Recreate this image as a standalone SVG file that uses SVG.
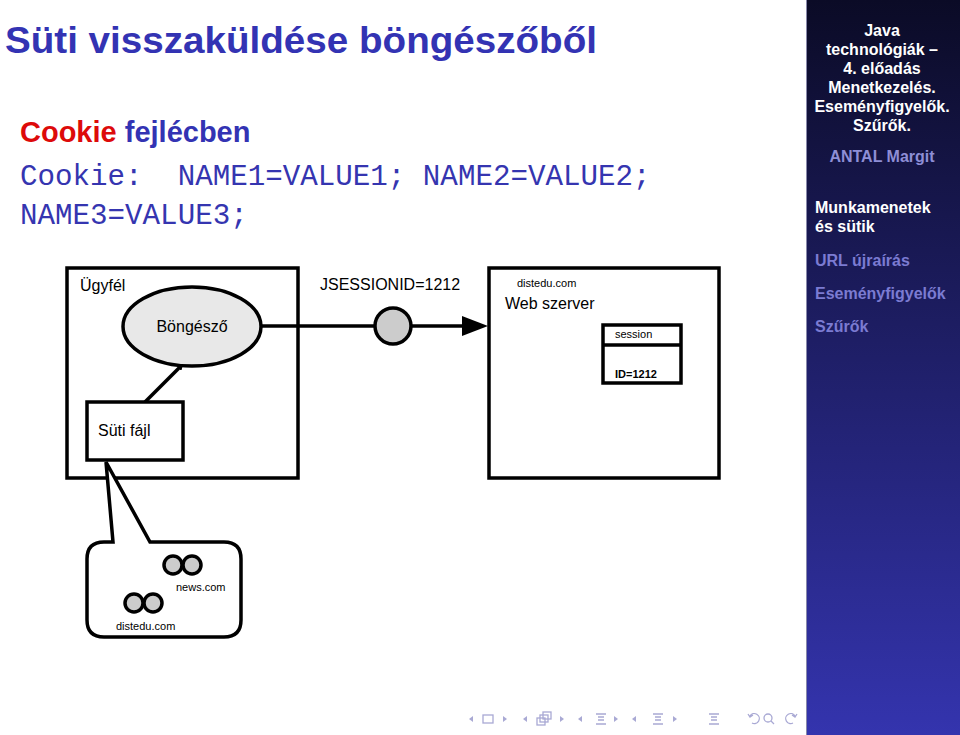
<svg xmlns="http://www.w3.org/2000/svg" width="960" height="735" viewBox="0 0 960 735">
<defs>
<linearGradient id="sb" x1="0" y1="0" x2="0" y2="1">
<stop offset="0" stop-color="#0b0b26"/>
<stop offset="1" stop-color="#3434ae"/>
</linearGradient>
<style>
.box{fill:#fff;stroke:#000;stroke-width:3.5}
.ln{fill:none;stroke:#000;stroke-width:3.5}
.ck{fill:#cccccc;stroke:#000;stroke-width:3.5}
.lbl{font-family:"Liberation Sans",Arial,sans-serif;font-size:16px;fill:#000}
.sm{font-family:"Liberation Sans",Arial,sans-serif;font-size:11px;fill:#000}
.sbt{font-family:"Liberation Sans",Arial,sans-serif;font-size:16px;font-weight:bold;fill:#fff;text-anchor:middle}
.sbs{font-family:"Liberation Sans",Arial,sans-serif;font-size:16px;font-weight:bold;fill:#7b7bd2}
.nav{fill:none;stroke:#a9a9d4;stroke-width:1.3}
.navf{fill:#a9a9d4}
</style>
</defs>
<rect width="960" height="735" fill="#fff"/>

<g id="sidebar">
<rect x="806" y="0" width="154" height="735" fill="url(#sb)"/>
<line x1="806.5" y1="0" x2="806.5" y2="735" stroke="#8888aa" stroke-width="1"/>
<text class="sbt" x="882" y="36">Java</text>
<text class="sbt" x="882" y="55">technológiák –</text>
<text class="sbt" x="882" y="74">4. előadás</text>
<text class="sbt" x="882" y="93">Menetkezelés.</text>
<text class="sbt" x="882" y="112">Eseményfigyelők.</text>
<text class="sbt" x="882" y="131">Szűrők.</text>
<text class="sbt" x="882" y="162" style="fill:#8e8ed6">ANTAL Margit</text>
<text class="sbs" x="815" y="213" style="fill:#fff">Munkamenetek</text>
<text class="sbs" x="815" y="232" style="fill:#fff">és sütik</text>
<text class="sbs" x="815" y="266">URL újraírás</text>
<text class="sbs" x="815" y="299">Eseményfigyelők</text>
<text class="sbs" x="815" y="332">Szűrők</text>
</g>

<g id="title">
<text x="5" y="53" textLength="592" lengthAdjust="spacingAndGlyphs" style="font-family:'Liberation Sans',Arial,sans-serif;font-size:36px;font-weight:bold;fill:#3333b3">Süti visszaküldése böngészőből</text>
</g>
<g id="subtitle">
<text x="20" y="142" style="font-family:'Liberation Sans',Arial,sans-serif;font-size:29px;font-weight:bold"><tspan fill="#dd0a0a">Cookie</tspan><tspan fill="#3333b3"> fejlécben</tspan></text>
</g>
<g id="code" style="font-family:'Liberation Mono','Courier New',monospace;font-size:29.2px;fill:#3535b0">
<text x="20" y="185" xml:space="preserve">Cookie:  NAME1=VALUE1; NAME2=VALUE2;</text>
<text x="20" y="224">NAME3=VALUE3;</text>
</g>

<g id="ugyfel">
<rect class="box" x="67" y="268" width="231" height="210"/>
<text class="lbl" x="80" y="291">Ügyfél</text>
</g>
<g id="webszerver">
<rect class="box" x="489" y="268" width="230" height="210"/>
<text class="sm" x="517" y="287">distedu.com</text>
<text class="lbl" x="505" y="309">Web szerver</text>
</g>
<g id="session">
<rect class="box" x="603" y="325" width="78" height="58"/>
<line class="ln" x1="603" y1="345" x2="681" y2="345"/>
<text class="sm" x="615" y="338">session</text>
<text class="sm" x="615" y="378" font-weight="bold">ID=1212</text>
</g>

<g id="connectors">
<line class="ln" x1="261" y1="326" x2="466" y2="326"/>
<path d="M462,316 L488,326 L462,336 Z" fill="#000"/>
<line class="ln" x1="145" y1="402" x2="181" y2="366"/>
<path d="M176,364 L183,363 L181,370 Z" fill="#000" stroke="#000" stroke-width="1"/>
<text class="lbl" x="320" y="290">JSESSIONID=1212</text>
</g>

<g id="bongeszo">
<ellipse cx="192" cy="326.5" rx="69" ry="39.5" fill="#e8e8e8" stroke="#000" stroke-width="3.5"/>
<text class="lbl" x="192" y="332" text-anchor="middle">Böngésző</text>
</g>

<g id="cookie-token">
<circle class="ck" cx="393" cy="326" r="18"/>
</g>

<g id="suti-fajl">
<rect class="box" x="87" y="402" width="96" height="58"/>
<text class="lbl" x="98" y="436">Süti fájl</text>
</g>

<g id="callout">
<path class="ln" style="fill:#fff;stroke-linejoin:miter" d="M104,542 L113,542 L106,462 L150,542 L224,542 Q241,542 241,559 L241,620 Q241,637 224,637 L104,637 Q87,637 87,620 L87,559 Q87,542 104,542 Z"/>
<circle class="ck" cx="173" cy="565" r="9"/>
<circle class="ck" cx="192" cy="565" r="9"/>
<text class="sm" x="176" y="591">news.com</text>
<circle class="ck" cx="134" cy="603" r="9"/>
<circle class="ck" cx="153" cy="603" r="9"/>
<text class="sm" x="116" y="630">distedu.com</text>
</g>

<g id="navigation">
<path class="navf" d="M473,716 L469,719 L473,722 Z"/>
<rect class="nav" x="483" y="715" width="10" height="8"/>
<path class="navf" d="M503,716 L507,719 L503,722 Z"/>
<path class="navf" d="M527,716 L523,719 L527,722 Z"/>
<rect class="nav" x="537" y="718" width="8" height="7"/>
<rect class="nav" x="540" y="715" width="8" height="7"/>
<rect class="nav" x="543" y="712" width="8" height="7"/>
<path class="navf" d="M560,716 L564,719 L560,722 Z"/>
<path class="navf" d="M582,716 L578,719 L582,722 Z"/>
<path class="nav" d="M596,714 H606 M598,717 H604 M598,720 H604 M596,724 H606"/>
<path class="navf" d="M614,716 L618,719 L614,722 Z"/>
<path class="navf" d="M636,716 L632,719 L636,722 Z"/>
<path class="nav" d="M653,714 H663 M655,717 H661 M655,720 H661 M653,724 H663"/>
<path class="navf" d="M673,716 L677,719 L673,722 Z"/>
<path class="nav" d="M709,714 H719 M711,717 H717 M711,720 H717 M709,724 H719"/>
<path class="nav" d="M750,716 A5,5 0 1 1 752,723 M748,714 L750,717 L753,715"/>
<circle class="nav" cx="768" cy="718" r="4"/>
<path class="nav" d="M771,721 L774,724"/>
<path class="nav" d="M795,716 A5,5 0 1 0 793,723 M797,714 L795,717 L792,715"/>
</g>
</svg>
